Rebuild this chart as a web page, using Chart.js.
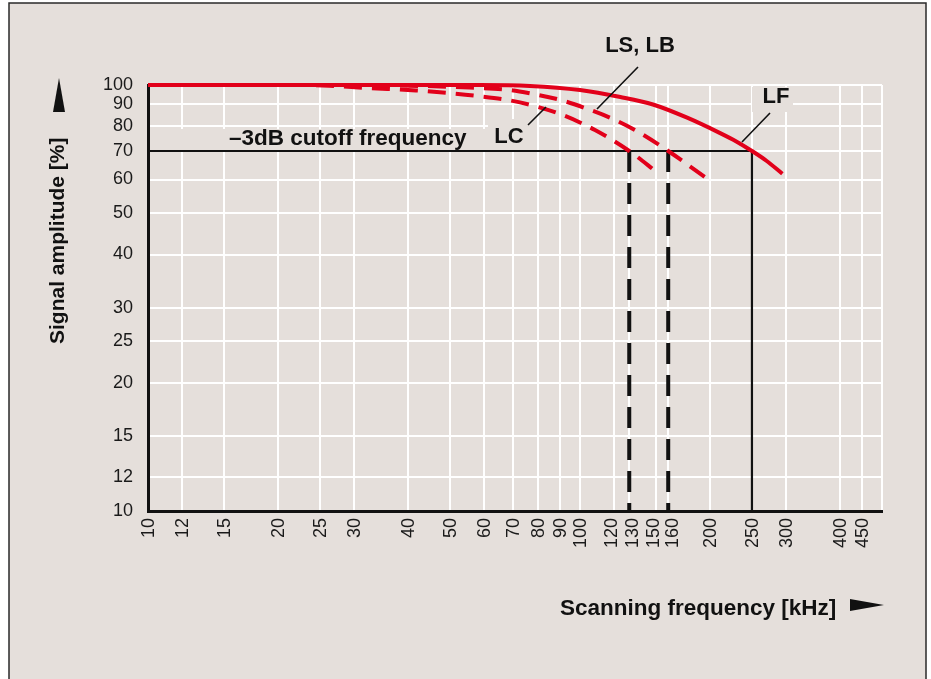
<!DOCTYPE html>
<html>
<head>
<meta charset="utf-8">
<script src="https://cdn.jsdelivr.net/npm/chart.js@4.4.1/dist/chart.umd.min.js"></script>
<style>
  html, body { margin: 0; padding: 0; background: #fff; }
  canvas { display: block; }
</style>
</head>
<body>
<canvas id="chart" width="931" height="679"></canvas>
<script>
// grid / tick positions on both log axes (kHz and %)
const freqTicks = [10, 12, 15, 20, 25, 30, 40, 50, 60, 70, 80, 90, 100, 120, 130, 150, 160, 200, 250, 300, 400, 450, 500];
const freqLabels = ['10', '12', '15', '20', '25', '30', '40', '50', '60', '70', '80', '90', '100', '120', '130', '150', '160', '200', '250', '300', '400', '450', ''];
const ampTicks = [10, 12, 15, 20, 25, 30, 40, 50, 60, 70, 80, 90, 100];

// LF
const lfFreq = [10, 40, 58.7, 76.6, 100, 124, 147.5, 177, 211, 230, 250, 270, 294];
const lfAmp = [100, 100, 100, 99.5, 97.3, 93.7, 90, 83.8, 77.1, 73.7, 70, 66.4, 61.9];

// LS, LB
const lsFreq = [10, 27.8, 42.6, 55.5, 68.9, 77, 90.9, 104.9, 120.5, 137.7, 160, 194.7];
const lsAmp = [100, 100, 99.5, 98.6, 97.3, 95.5, 92, 87.6, 82.8, 77.2, 70, 60.8];

// LC
const lcFreq = [10, 22.5, 26.3, 32.1, 41.7, 49.2, 58.1, 68.1, 79.9, 92.3, 108.3, 130, 151.6];
const lcAmp = [100, 100, 99.6, 98.4, 97.1, 95.8, 94.2, 92.2, 88.8, 84.6, 78.4, 70, 62.1];

// -3 dB level and the cutoff frequencies
const cutoffAmp = 70;
const lfCutoff = 250;
const lsCutoff = 160;
const lcCutoff = 130;

const RED = '#e2001a';
const FONT = '"Liberation Sans", Arial, Helvetica, sans-serif';

// small sideways shifts so the crowded 120/130/150/160 labels don't collide
const labelNudge = { 120: -3, 130: 3, 150: -3, 160: 4 };

const pts = (xs, ys) => xs.map((x, i) => ({ x: x, y: ys[i] }));

// page frame, label boxes, x tick labels, titles, arrows and leader lines
const decor = {
  id: 'decor',
  beforeDraw(chart) {
    const c = chart.ctx;
    c.save();
    c.fillStyle = '#ffffff';
    c.fillRect(0, 0, chart.width, chart.height);
    c.fillStyle = '#e5dfdb';
    c.fillRect(9, 3, 917, 690);
    c.strokeStyle = '#2a2a2a';
    c.lineWidth = 1.5;
    c.strokeRect(9, 3, 917, 690);
    c.restore();
  },
  beforeDatasetsDraw(chart) {
    const c = chart.ctx;
    c.save();
    c.fillStyle = '#e5dfdb';
    c.fillRect(150, 129, 340, 21);   // -3dB caption
    c.fillRect(488, 119, 49, 31);    // LC
    c.fillRect(752, 87, 41, 25);     // LF
    c.restore();
  },
  afterDatasetsDraw(chart) {
    const c = chart.ctx;
    const xs = chart.scales.x;
    c.save();

    // rotated frequency labels
    c.font = '18px ' + FONT;
    c.fillStyle = '#1a1a1a';
    c.textAlign = 'right';
    c.textBaseline = 'middle';
    freqTicks.forEach((v, i) => {
      if (!freqLabels[i]) return;
      const px = xs.getPixelForValue(v) + (labelNudge[v] || 0);
      c.save();
      c.translate(px, xs.top + 7);
      c.rotate(-Math.PI / 2);
      c.fillText(freqLabels[i], 0, 1);
      c.restore();
    });

    c.fillStyle = '#111';
    c.strokeStyle = '#111';
    c.font = 'bold 22.5px ' + FONT;
    c.textAlign = 'left';
    c.fillText('\u20133dB cutoff frequency', 229, 139);
    c.font = 'bold 22px ' + FONT;
    c.textAlign = 'center';
    c.fillText('LC', 509, 137);
    c.fillText('LF', 776, 97);
    c.fillText('LS, LB', 640, 46);

    // leader lines
    c.lineWidth = 1.6;
    c.beginPath();
    c.moveTo(638, 67); c.lineTo(597, 109);
    c.moveTo(528, 125); c.lineTo(546, 107);
    c.moveTo(770, 113); c.lineTo(742, 142);
    c.stroke();

    // axis titles
    c.textAlign = 'left';
    c.font = 'bold 22.5px ' + FONT;
    c.fillText('Scanning frequency [kHz]', 560, 609);
    c.font = 'bold 21px ' + FONT;
    c.save();
    c.translate(58, 344);
    c.rotate(-Math.PI / 2);
    c.fillText('Signal amplitude [%]', 0, 0);
    c.restore();

    // arrows
    c.beginPath();
    c.moveTo(53, 112); c.lineTo(65, 112); c.lineTo(59, 78); c.closePath();
    c.fill();
    c.beginPath();
    c.moveTo(850, 599); c.lineTo(884, 605); c.lineTo(850, 611); c.closePath();
    c.fill();
    c.restore();
  }
};

const curve = (label, data, dash) => ({
  label: label,
  data: data,
  borderColor: RED,
  borderWidth: 4,
  borderDash: dash,
  pointRadius: 0,
  cubicInterpolationMode: 'monotone',
  clip: 8,
  fill: false
});

const refLine = (label, data, width, dash) => ({
  label: label,
  data: data,
  borderColor: '#111',
  borderWidth: width,
  borderDash: dash,
  pointRadius: 0,
  tension: 0,
  clip: 4,
  fill: false
});

new Chart(document.getElementById('chart'), {
  type: 'line',
  data: {
    datasets: [
      curve('LF', pts(lfFreq, lfAmp), []),
      curve('LS, LB', pts(lsFreq, lsAmp), [18, 10]),
      curve('LC', pts(lcFreq, lcAmp), [18, 10]),
      refLine('-3dB', [{ x: 10, y: cutoffAmp }, { x: lfCutoff, y: cutoffAmp }, { x: lfCutoff, y: 10 }], 2.2, []),
      refLine('LS cutoff', [{ x: lsCutoff, y: cutoffAmp }, { x: lsCutoff, y: 10 }], 4, [21, 11]),
      refLine('LC cutoff', [{ x: lcCutoff, y: cutoffAmp }, { x: lcCutoff, y: 10 }], 4, [21, 11])
    ]
  },
  options: {
    responsive: false,
    animation: false,
    events: [],
    layout: { padding: { left: 0, top: 85, right: 49, bottom: 0 } },
    plugins: { legend: { display: false }, tooltip: { enabled: false } },
    scales: {
      x: {
        type: 'logarithmic',
        min: 10,
        max: 500,
        afterBuildTicks: (s) => { s.ticks = freqTicks.map(v => ({ value: v })); },
        afterFit: (s) => { s.height = 168; },
        grid: { color: '#ffffff', lineWidth: 2, drawTicks: false },
        border: { color: '#111', width: 3 },
        ticks: { display: false, autoSkip: false }
      },
      y: {
        type: 'logarithmic',
        min: 10,
        max: 100,
        afterBuildTicks: (s) => { s.ticks = ampTicks.map(v => ({ value: v })); },
        afterFit: (s) => { s.width = 148; },
        grid: { color: '#ffffff', lineWidth: 2, drawTicks: false },
        border: { color: '#111', width: 3 },
        ticks: {
          autoSkip: false,
          padding: 15,
          color: '#1a1a1a',
          font: { family: FONT, size: 18 },
          callback: (v) => String(v)
        }
      }
    }
  },
  plugins: [decor]
});
</script>
</body>
</html>
